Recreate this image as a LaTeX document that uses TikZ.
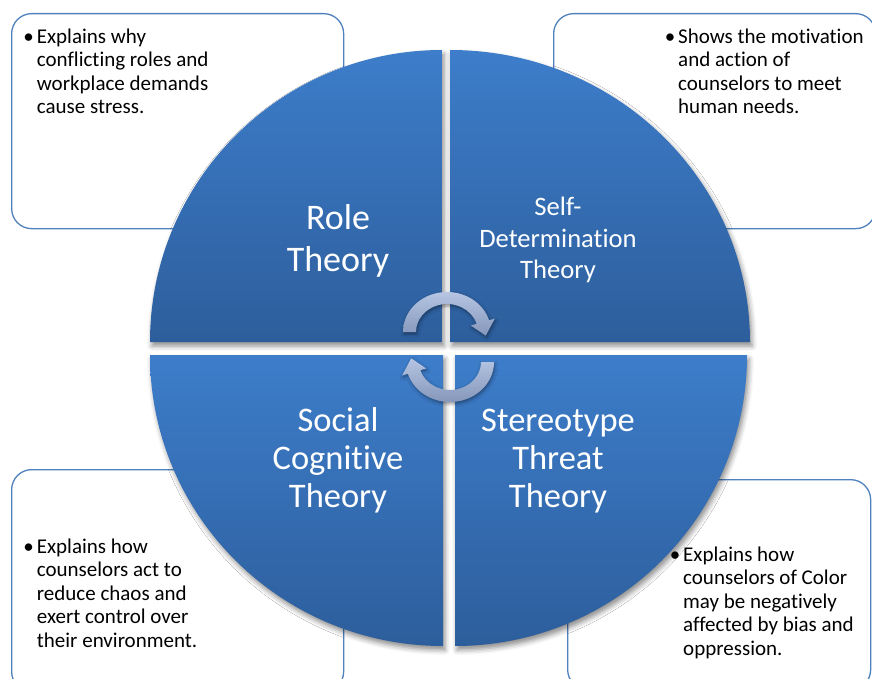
\documentclass[tikz,border=0pt]{standalone}
\usepackage{fontspec}
\setmainfont{Carlito}[Ligatures={NoCommon}]
\usetikzlibrary{shadows.blur}
\definecolor{quadtop}{HTML}{3D7DCA}
\definecolor{quadbot}{HTML}{2D5E9C}
\definecolor{boxline}{HTML}{4F81BD}
\definecolor{arrtop}{HTML}{B5C5E2}
\definecolor{arrbot}{HTML}{8597BB}
\begin{document}
\begin{tikzpicture}[x=1pt,y=1pt,
  infobox/.style={draw=boxline, line width=1.3pt, rounded corners=20pt, fill=white, inner sep=0pt},
  quad/.style={top color=quadtop, bottom color=quadbot,
    blur shadow={shadow xshift=2pt, shadow yshift=-4pt, shadow blur radius=5pt, shadow opacity=45}},
  cyclearrow/.style={top color=arrtop, bottom color=arrbot,
    blur shadow={shadow xshift=1pt, shadow yshift=-2pt, shadow blur radius=3pt, shadow opacity=40}},
  boxtext/.style={font=\fontsize{21}{23.4}\selectfont, align=left, anchor=base west, inner sep=0pt, text=black},
  quadtext/.style={align=center, anchor=base, inner sep=0pt, text=white}
]
\path[use as bounding box] (0,0) rectangle (872,-679);
\clip (0,0) rectangle (872,-679);

% description boxes
\node[infobox, minimum width=332pt, minimum height=215pt, anchor=north west] (boxTL) at (11,-13) {};
\node[infobox, minimum width=322pt, minimum height=215pt, anchor=north west] (boxTR) at (553,-13) {};
\node[infobox, minimum width=332pt, minimum height=222pt, anchor=north west] (boxBL) at (11,-469) {};
\node[infobox, minimum width=303pt, minimum height=210pt, anchor=north west] (boxBR) at (567,-479) {};

% box texts (anchor = baseline of the last line)
\node[boxtext] (txtTL) at (36.7,-113.5) {\llap{\textbullet\hspace{3pt}}Explains why\\conflicting roles and\\workplace demands\\cause stress.};
\node[boxtext] (txtTR) at (678,-113.5) {\llap{\textbullet\hspace{3pt}}Shows the motivation\\and action of\\counselors to meet\\human needs.};
\node[boxtext, font=\fontsize{21}{23.5}\selectfont] (txtBL) at (36.7,-647) {\llap{\textbullet\hspace{3pt}}Explains how\\counselors act to\\reduce chaos and\\exert control over\\their environment.};
\node[boxtext, font=\fontsize{21}{23.5}\selectfont] (txtBR) at (683,-655) {\llap{\textbullet\hspace{3pt}}Explains how\\counselors of Color\\may be negatively\\affected by bias and\\oppression.};

% quadrants
\path[quad] (442,-342) -- (150,-342) arc[start angle=180, end angle=90, x radius=292, y radius=292] -- cycle;
\path[quad] (450,-342) -- (450,-50) arc[start angle=90, end angle=0, x radius=300, y radius=292] -- cycle;
\path[quad] (443,-355) -- (150,-355) arc[start angle=180, end angle=270, x radius=293, y radius=291] -- cycle;
\path[quad] (455,-355) -- (747,-355) arc[start angle=0, end angle=-90, x radius=292, y radius=291] -- cycle;

% quadrant labels (anchor = baseline of the last line)
\node[quadtext, font=\fontsize{36}{42}\selectfont] (role) at (338,-271.5) {Role\\Theory};
\node[quadtext, font=\fontsize{26.6}{31.5}\selectfont] (sdt) at (558,-278.5) {Self-\\Determination\\Theory};
\node[quadtext, font=\fontsize{34.5}{38}\selectfont] (sct) at (338,-507) {Social\\Cognitive\\Theory};
\node[quadtext, font=\fontsize{34.5}{38}\selectfont] (stt) at (558,-507) {Stereotype\\Threat\\Theory};

% cycle arrows
\coordinate (ca) at (447,-332);
\coordinate (cb) at (450,-362);
\path[cyclearrow] ([shift={(ca)}]180:44 and 40) arc[start angle=180, end angle=17, x radius=44, y radius=40]
  -- ([shift={(ca)}]17:50 and 46) -- ([shift={(ca)}]-6:39 and 35) -- ([shift={(ca)}]17:25 and 22)
  -- ([shift={(ca)}]17:31 and 28) arc[start angle=17, end angle=180, x radius=31, y radius=28] -- cycle;
\path[cyclearrow] ([shift={(cb)}]0:44 and 40) arc[start angle=0, end angle=-163, x radius=44, y radius=40]
  -- ([shift={(cb)}]-163:50 and 46) -- ([shift={(cb)}]174:39 and 35) -- ([shift={(cb)}]-163:25 and 22)
  -- ([shift={(cb)}]-163:31 and 28) arc[start angle=-163, end angle=0, x radius=31, y radius=28] -- cycle;
\end{tikzpicture}
\end{document}
